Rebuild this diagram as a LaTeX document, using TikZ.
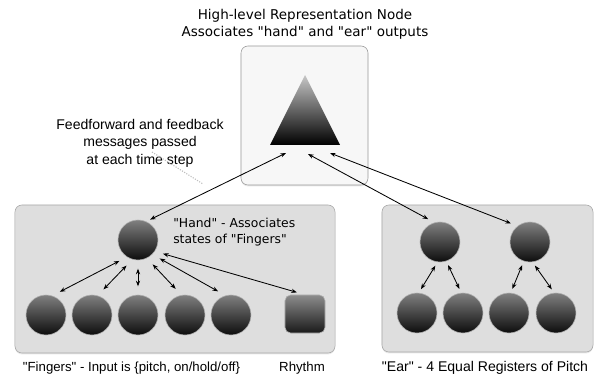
\documentclass[tikz,border=0pt]{standalone}
\usepackage{fontspec}
\setmainfont{Liberation Sans}[Ligatures=TeXOff]
\newfontfamily\dvfont{DejaVu Sans}
\usetikzlibrary{arrows.meta,shadows}
\tikzset{
  panel/.style={rectangle,draw=black!35,fill=black!13,rounded corners=5pt,
    drop shadow={opacity=0.18,shadow xshift=0pt,shadow yshift=-1pt}},
  topbox/.style={rectangle,draw=black!40,fill=black!3,rounded corners=5pt,
    drop shadow={opacity=0.18,shadow xshift=0pt,shadow yshift=-1pt}},
  ball/.style={circle,minimum size=1cm,inner sep=0pt,draw=black!30,
    top color=black!50,bottom color=black!95},
  pad/.style={rectangle,rounded corners=4pt,minimum width=1cm,minimum height=0.95cm,
    inner sep=0pt,draw=black!30,top color=black!45,bottom color=black!90},
  link/.style={{Stealth[length=4pt,width=3pt]}-{Stealth[length=4pt,width=3pt]},line width=0.6pt},
  txt/.style={font=\fontsize{10}{12.4}\selectfont,align=center,inner sep=0pt}
}
\begin{document}
\begin{tikzpicture}[x=0.025cm,y=-0.025cm]
\useasboundingbox (0,0) rectangle (599,379);
% high-level node
\node[font=\dvfont\fontsize{9.6}{12}\selectfont,align=center,inner sep=0pt] (title) at (305,24)
  {High-level Representation Node\\Associates "hand" and "ear" outputs};
\node[topbox,minimum width=3.175cm,minimum height=3.475cm] (top) at (304.5,115.5) {};
\shade[top color=black!22,bottom color=black] (270,145) -- (305,75) -- (340,145) -- cycle;
\coordinate (in-hand) at (286,153);
\coordinate (in-ear1) at (308,154);
\coordinate (in-ear2) at (330,153);
\node[txt] (note) at (140,143) {Feedforward and feedback\\messages passed\\at each time step};
\coordinate (note-a) at (152,152);
\coordinate (note-b) at (203,184);
\draw[black!25,densely dotted,line width=0.8pt] (note-a) -- (note-b);
% hand and fingers
\node[panel,minimum width=8cm,minimum height=3.7cm] (left) at (175,279) {};
\node[ball] (hand) at (138,240) {};
\node[font=\dvfont\fontsize{8.8}{11}\selectfont,align=left,anchor=west,inner sep=0pt] (handlbl) at (173,232)
  {"Hand" - Associates\\states of "Fingers"};
\foreach \i/\x in {1/46,2/92,3/138,4/185,5/231}
  \node[ball] (f\i) at (\x,315) {};
\node[pad] (rhythm) at (305,314) {};
\begin{scope}[shorten <=6pt,shorten >=6pt]
\draw[link] (hand.-123) -- (f1.72);
\draw[link] (hand.-106) -- (f2.74);
\draw[link] (hand.-90) -- (f3.90);
\draw[link] (hand.-64) -- (f4.100);
\draw[link] (hand.-45) -- (f5.106);
\draw[link] (hand.-34) -- (rhythm.north);
\end{scope}
\node[txt,font=\fontsize{9.4}{12}\selectfont] (fingerslbl) at (131.5,368) {"Fingers" - Input is \{pitch, on/hold/off\}};
\node[txt,font=\fontsize{9.4}{12}\selectfont] (rhythmlbl) at (302,368) {Rhythm};
% ear
\node[panel,minimum width=5.275cm,minimum height=3.675cm] (right) at (487.5,278.5) {};
\node[ball] (e1) at (440,242) {};
\node[ball] (e2) at (530,242) {};
\foreach \i/\x in {1/417,2/463,3/509,4/556}
  \node[ball] (r\i) at (\x,313) {};
\begin{scope}[shorten <=3pt,shorten >=3pt]
\draw[link] (e1.-97) -- (r1.85);
\draw[link] (e1.-72) -- (r2.95);
\draw[link] (e2.-108) -- (r3.85);
\draw[link] (e2.-83) -- (r4.95);
\end{scope}
\node[txt] (earlbl) at (485,368) {"Ear" - 4 Equal Registers of Pitch};
% up to the high-level node
\draw[link,shorten <=3pt] (hand.66) -- (in-hand);
\draw[link,shorten <=5pt] (e1.106) -- (in-ear1);
\draw[link,shorten <=5pt] (e2.128) -- (in-ear2);
\end{tikzpicture}
\end{document}
